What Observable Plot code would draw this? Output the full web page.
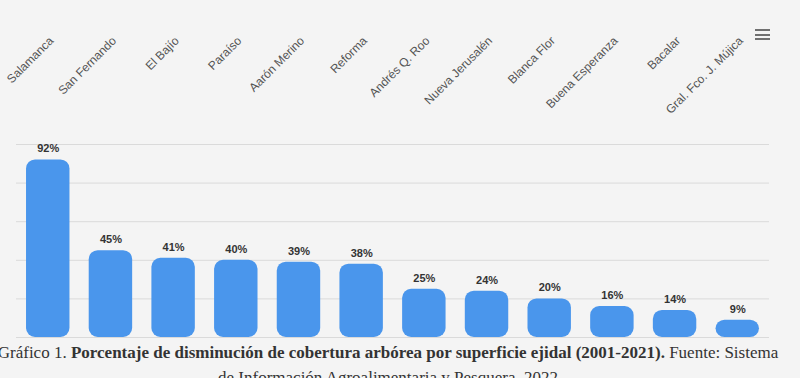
<!DOCTYPE html>
<html>
<head>
<meta charset="utf-8">
<script src="https://cdn.jsdelivr.net/npm/d3@7"></script>
<script src="https://cdn.jsdelivr.net/npm/@observablehq/plot@0.6"></script>
<style>
  html, body { margin: 0; padding: 0; background: #f4f4f4; width: 800px; height: 378px; overflow: hidden; }
  #wrap { position: relative; width: 800px; }
  #menu { position: absolute; left: 755px; top: 29px; width: 15px; height: 11px; }
  #menu span { display: block; height: 2px; background: #707070; margin-bottom: 2.5px; }
  #caption { position: relative; left: -12px; font-family: "Liberation Serif", serif; font-size: 17px; line-height: 25px; color: #333; text-align: center; white-space: nowrap; }
  #caption b { font-weight: bold; }
</style>
</head>
<body>
<div id="wrap">
  <div id="chart"></div>
  <div id="menu"><span></span><span></span><span></span></div>
  <div id="caption">Gráfico 1. <b>Porcentaje de disminución de cobertura arbórea por superficie ejidal (2001-2021).</b> Fuente: Sistema<br>de Información Agroalimentaria y Pesquera, 2022</div>
</div>
<script>
const categories = ["Salamanca", "San Fernando", "El Bajío", "Paraíso", "Aarón Merino", "Reforma", "Andrés Q. Roo", "Nueva Jerusalén", "Blanca Flor", "Buena Esperanza", "Bacalar", "Gral. Fco. J. Mújica"];
const values = [92, 45, 41, 40, 39, 38, 25, 24, 20, 16, 14, 9];
const gridTicks = [0, 20, 40, 60, 80, 100];

const data = categories.map((c, i) => ({name: c, value: values[i]}));

const chart = Plot.plot({
  width: 800,
  height: 340,
  marginTop: 144,
  marginBottom: 3,
  marginLeft: 16,
  marginRight: 31,
  style: {background: "transparent", fontFamily: "Liberation Sans, Arial, sans-serif"},
  x: {domain: categories, paddingInner: 0.307, paddingOuter: 0.16, round: false, axis: null},
  y: {domain: [0, 100], axis: null},
  marks: [
    Plot.ruleY(gridTicks, {stroke: "#dadada", strokeWidth: 1}),
    Plot.barY(data, {x: "name", y: "value", fill: "#4a96ec", rx: 9}),
    Plot.text(data, {x: "name", y: "value", text: d => d.value + "%", dy: -11, fontSize: 11, fontWeight: "bold", fill: "#333"}),
    Plot.text(categories, {x: d => d, frameAnchor: "top", dy: -109, rotate: -45, textAnchor: "end", fontSize: 12, fill: "#555"})
  ]
});
document.getElementById("chart").appendChild(chart);
</script>
</body>
</html>
